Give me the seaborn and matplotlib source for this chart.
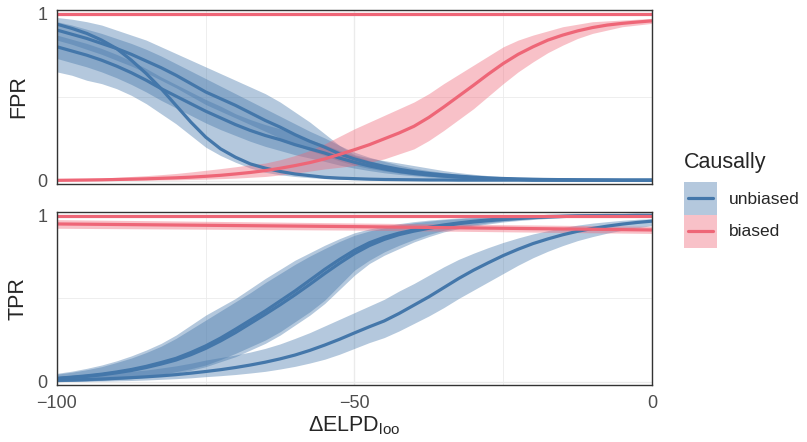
import pandas as pd
import matplotlib
matplotlib.use("Agg")
import matplotlib.pyplot as plt
import seaborn as sns
from matplotlib.patches import Patch, Rectangle
from matplotlib.lines import Line2D
from matplotlib.legend_handler import HandlerBase

# x grid (Delta ELPD_loo), read every 2.5 units
x = [-100, -97.5, -95, -92.5, -90, -87.5, -85, -82.5, -80, -77.5,
     -75, -72.5, -70, -67.5, -65, -62.5, -60, -57.5, -55, -52.5,
     -50, -47.5, -45, -42.5, -40, -37.5, -35, -32.5, -30, -27.5,
     -25, -22.5, -20, -17.5, -15, -12.5, -10, -7.5, -5, -2.5,
     0]
x_ends = [-100, 0]
x_3 = [-100, -50, 0]

# ---- FPR panel, unbiased ----
fpr_unb_a = [0.935, 0.91, 0.88, 0.84, 0.79, 0.72, 0.64, 0.55, 0.45, 0.35,
             0.26, 0.19, 0.14, 0.10, 0.075, 0.055, 0.04, 0.03, 0.02, 0.015,
             0.012, 0.009, 0.007, 0.006, 0.005, 0.004, 0.004, 0.003, 0.003, 0.003,
             0.003, 0.003, 0.002, 0.002, 0.002, 0.002, 0.002, 0.002, 0.002, 0.002,
             0.002]
fpr_unb_a_lo = [0.65, 0.63, 0.60, 0.58, 0.55, 0.51, 0.46, 0.40, 0.34, 0.27,
                0.20, 0.15, 0.11, 0.075, 0.05, 0.035, 0.025, 0.018, 0.012, 0.008,
                0.006, 0.004, 0.003, 0.002, 0.002, 0.001, 0.001, 0.001, 0.001, 0.001,
                0.001, 0.001, 0.001, 0.001, 0.001, 0.001, 0.001, 0.001, 0.001, 0.001,
                0.001]
fpr_unb_a_hi = [0.975, 0.965, 0.95, 0.93, 0.90, 0.87, 0.84, 0.80, 0.76, 0.72,
                0.68, 0.64, 0.60, 0.56, 0.52, 0.47, 0.41, 0.35, 0.28, 0.21,
                0.155, 0.135, 0.12, 0.105, 0.09, 0.075, 0.06, 0.048, 0.038, 0.03,
                0.023, 0.018, 0.014, 0.011, 0.009, 0.008, 0.007, 0.006, 0.005, 0.005,
                0.004]

fpr_unb_b = [0.90, 0.875, 0.85, 0.82, 0.79, 0.755, 0.715, 0.675, 0.63, 0.58,
             0.53, 0.49, 0.45, 0.405, 0.36, 0.32, 0.275, 0.235, 0.20, 0.16,
             0.13, 0.105, 0.085, 0.068, 0.054, 0.043, 0.034, 0.027, 0.021, 0.016,
             0.013, 0.01, 0.008, 0.007, 0.006, 0.005, 0.004, 0.004, 0.003, 0.003,
             0.003]
fpr_unb_b_lo = [0.84, 0.815, 0.785, 0.755, 0.72, 0.685, 0.645, 0.60, 0.555, 0.505,
                0.455, 0.415, 0.375, 0.335, 0.295, 0.255, 0.215, 0.18, 0.15, 0.118,
                0.092, 0.073, 0.058, 0.045, 0.035, 0.027, 0.021, 0.016, 0.012, 0.009,
                0.007, 0.005, 0.004, 0.003, 0.003, 0.002, 0.002, 0.002, 0.001, 0.001,
                0.001]
fpr_unb_b_hi = [0.95, 0.93, 0.905, 0.88, 0.85, 0.82, 0.785, 0.745, 0.70, 0.655,
                0.61, 0.565, 0.52, 0.475, 0.43, 0.385, 0.34, 0.295, 0.255, 0.21,
                0.17, 0.14, 0.115, 0.092, 0.074, 0.06, 0.048, 0.038, 0.03, 0.024,
                0.019, 0.015, 0.012, 0.01, 0.008, 0.007, 0.006, 0.005, 0.005, 0.004,
                0.004]

fpr_unb_c = [0.80, 0.775, 0.75, 0.72, 0.685, 0.645, 0.60, 0.55, 0.505, 0.46,
             0.415, 0.375, 0.335, 0.30, 0.27, 0.245, 0.215, 0.19, 0.165, 0.135,
             0.11, 0.088, 0.07, 0.055, 0.043, 0.034, 0.027, 0.021, 0.016, 0.013,
             0.01, 0.008, 0.007, 0.006, 0.005, 0.004, 0.004, 0.003, 0.003, 0.003,
             0.003]
fpr_unb_c_lo = [0.73, 0.705, 0.68, 0.65, 0.615, 0.575, 0.53, 0.48, 0.435, 0.39,
                0.345, 0.305, 0.27, 0.235, 0.205, 0.18, 0.155, 0.135, 0.115, 0.093,
                0.075, 0.06, 0.047, 0.037, 0.029, 0.022, 0.017, 0.013, 0.01, 0.008,
                0.006, 0.005, 0.004, 0.003, 0.003, 0.002, 0.002, 0.002, 0.001, 0.001,
                0.001]
fpr_unb_c_hi = [0.87, 0.845, 0.82, 0.79, 0.755, 0.715, 0.67, 0.62, 0.575, 0.53,
                0.485, 0.445, 0.40, 0.365, 0.335, 0.31, 0.275, 0.245, 0.215, 0.18,
                0.15, 0.12, 0.095, 0.075, 0.06, 0.047, 0.037, 0.029, 0.023, 0.018,
                0.014, 0.011, 0.009, 0.008, 0.007, 0.006, 0.005, 0.004, 0.004, 0.004,
                0.004]

# ---- FPR panel, biased ----
fpr_bia_flat = [0.998, 0.998]
fpr_bia_flat_lo = [0.99, 0.99]
fpr_bia_flat_hi = [1.0, 1.0]

fpr_bia = [0.002, 0.003, 0.004, 0.005, 0.007, 0.009, 0.011, 0.014, 0.017, 0.021,
           0.026, 0.032, 0.04, 0.049, 0.06, 0.074, 0.09, 0.108, 0.13, 0.157,
           0.185, 0.215, 0.25, 0.285, 0.325, 0.378, 0.44, 0.505, 0.57, 0.637,
           0.70, 0.755, 0.80, 0.84, 0.87, 0.895, 0.915, 0.93, 0.94, 0.948,
           0.955]
fpr_bia_lo = [0.0, 0.0, 0.0, 0.001, 0.001, 0.002, 0.003, 0.004, 0.005, 0.007,
              0.009, 0.012, 0.015, 0.02, 0.025, 0.034, 0.045, 0.057, 0.07, 0.08,
              0.09, 0.11, 0.13, 0.16, 0.19, 0.24, 0.30, 0.365, 0.43, 0.505,
              0.58, 0.65, 0.71, 0.765, 0.81, 0.85, 0.88, 0.90, 0.92, 0.93,
              0.94]
fpr_bia_hi = [0.008, 0.01, 0.013, 0.016, 0.02, 0.025, 0.03, 0.036, 0.043, 0.052,
              0.062, 0.072, 0.083, 0.095, 0.105, 0.125, 0.15, 0.18, 0.22, 0.265,
              0.31, 0.35, 0.39, 0.43, 0.47, 0.52, 0.58, 0.635, 0.69, 0.745,
              0.80, 0.84, 0.87, 0.895, 0.92, 0.935, 0.95, 0.955, 0.96, 0.965,
              0.97]

# ---- TPR panel, unbiased ----
tpr_unb_a = [0.02, 0.027, 0.035, 0.045, 0.058, 0.073, 0.092, 0.115, 0.14, 0.175,
             0.215, 0.262, 0.315, 0.37, 0.425, 0.485, 0.545, 0.61, 0.675, 0.735,
             0.79, 0.835, 0.868, 0.893, 0.912, 0.928, 0.942, 0.954, 0.964, 0.972,
             0.979, 0.985, 0.99, 0.993, 0.995, 0.997, 0.998, 0.999, 0.999, 1.0,
             1.0]
tpr_unb_a_lo = [0.0, 0.002, 0.005, 0.009, 0.015, 0.022, 0.03, 0.043, 0.06, 0.078,
                0.10, 0.133, 0.17, 0.21, 0.25, 0.30, 0.36, 0.42, 0.49, 0.58,
                0.67, 0.73, 0.78, 0.82, 0.855, 0.885, 0.91, 0.928, 0.942, 0.955,
                0.965, 0.973, 0.98, 0.985, 0.99, 0.993, 0.995, 0.996, 0.997, 0.998,
                0.998]
tpr_unb_a_hi = [0.05, 0.063, 0.08, 0.10, 0.125, 0.155, 0.19, 0.23, 0.28, 0.34,
                0.40, 0.45, 0.50, 0.56, 0.62, 0.675, 0.73, 0.775, 0.82, 0.86,
                0.895, 0.918, 0.935, 0.95, 0.962, 0.971, 0.978, 0.984, 0.99, 0.993,
                0.995, 0.997, 0.999, 1.0, 1.0, 1.0, 1.0, 1.0, 1.0, 1.0,
                1.0]

tpr_unb_b = [0.018, 0.025, 0.032, 0.041, 0.053, 0.067, 0.085, 0.106, 0.13, 0.162,
             0.20, 0.245, 0.295, 0.35, 0.405, 0.462, 0.522, 0.585, 0.65, 0.712,
             0.77, 0.818, 0.855, 0.884, 0.905, 0.922, 0.937, 0.95, 0.96, 0.968,
             0.975, 0.981, 0.986, 0.99, 0.993, 0.995, 0.996, 0.997, 0.998, 0.999,
             0.999]
tpr_unb_b_lo = [0.0, 0.002, 0.004, 0.008, 0.012, 0.018, 0.026, 0.037, 0.05, 0.068,
                0.09, 0.12, 0.15, 0.19, 0.23, 0.28, 0.34, 0.40, 0.47, 0.555,
                0.64, 0.71, 0.76, 0.80, 0.84, 0.872, 0.90, 0.92, 0.935, 0.948,
                0.96, 0.968, 0.975, 0.981, 0.986, 0.99, 0.992, 0.994, 0.995, 0.996,
                0.997]
tpr_unb_b_hi = [0.045, 0.057, 0.072, 0.09, 0.115, 0.142, 0.175, 0.213, 0.26, 0.315,
                0.37, 0.425, 0.48, 0.535, 0.595, 0.65, 0.705, 0.755, 0.80, 0.843,
                0.88, 0.906, 0.925, 0.942, 0.955, 0.965, 0.974, 0.98, 0.985, 0.989,
                0.993, 0.995, 0.997, 0.998, 1.0, 1.0, 1.0, 1.0, 1.0, 1.0,
                1.0]

tpr_unb_c = [0.008, 0.01, 0.013, 0.016, 0.02, 0.024, 0.029, 0.035, 0.042, 0.051,
             0.061, 0.072, 0.085, 0.10, 0.117, 0.137, 0.16, 0.188, 0.22, 0.255,
             0.293, 0.33, 0.365, 0.41, 0.46, 0.51, 0.565, 0.62, 0.67, 0.715,
             0.758, 0.796, 0.83, 0.858, 0.883, 0.904, 0.921, 0.935, 0.947, 0.957,
             0.965]
tpr_unb_c_lo = [0.0, 0.001, 0.002, 0.003, 0.005, 0.007, 0.01, 0.014, 0.018, 0.023,
                0.03, 0.036, 0.043, 0.052, 0.062, 0.076, 0.092, 0.112, 0.135, 0.165,
                0.20, 0.235, 0.265, 0.305, 0.35, 0.395, 0.445, 0.50, 0.55, 0.60,
                0.65, 0.70, 0.745, 0.784, 0.818, 0.848, 0.872, 0.893, 0.91, 0.925,
                0.938]
tpr_unb_c_hi = [0.03, 0.035, 0.04, 0.047, 0.055, 0.062, 0.07, 0.082, 0.095, 0.111,
                0.13, 0.145, 0.16, 0.178, 0.20, 0.227, 0.26, 0.295, 0.335, 0.375,
                0.415, 0.455, 0.495, 0.545, 0.59, 0.64, 0.69, 0.735, 0.772, 0.806,
                0.837, 0.864, 0.888, 0.908, 0.926, 0.941, 0.953, 0.962, 0.97, 0.976,
                0.98]

# ---- TPR panel, biased ----
tpr_bia_flat = [0.998, 0.998]
tpr_bia_flat_lo = [0.99, 0.99]
tpr_bia_flat_hi = [1.0, 1.0]

tpr_bia = [0.948, 0.932, 0.912]
tpr_bia_lo = [0.922, 0.911, 0.891]
tpr_bia_hi = [0.974, 0.954, 0.934]

series = [
    ("FPR", "fa", "unbiased", x, fpr_unb_a, fpr_unb_a_lo, fpr_unb_a_hi),
    ("FPR", "fb", "unbiased", x, fpr_unb_b, fpr_unb_b_lo, fpr_unb_b_hi),
    ("FPR", "fc", "unbiased", x, fpr_unb_c, fpr_unb_c_lo, fpr_unb_c_hi),
    ("FPR", "fd", "biased", x_ends, fpr_bia_flat, fpr_bia_flat_lo, fpr_bia_flat_hi),
    ("FPR", "fe", "biased", x, fpr_bia, fpr_bia_lo, fpr_bia_hi),
    ("TPR", "ta", "unbiased", x, tpr_unb_a, tpr_unb_a_lo, tpr_unb_a_hi),
    ("TPR", "tb", "unbiased", x, tpr_unb_b, tpr_unb_b_lo, tpr_unb_b_hi),
    ("TPR", "tc", "unbiased", x, tpr_unb_c, tpr_unb_c_lo, tpr_unb_c_hi),
    ("TPR", "td", "biased", x_ends, tpr_bia_flat, tpr_bia_flat_lo, tpr_bia_flat_hi),
    ("TPR", "te", "biased", x_3, tpr_bia, tpr_bia_lo, tpr_bia_hi),
]

frames = []
for panel, sid, grp, xs, y, lo, hi in series:
    frames.append(pd.DataFrame({"panel": panel, "series": sid, "Causally": grp,
                                "x": xs, "y": y, "lo": lo, "hi": hi}))
df = pd.concat(frames, ignore_index=True)

BLUE = "#4477AA"
RED = "#EE6677"
palette = {"unbiased": BLUE, "biased": RED}
order = ["unbiased", "biased"]


class RibbonKey(HandlerBase):
    # ggplot-like key: filled square (ribbon) with a line through the middle
    def create_artists(self, legend, orig_handle, xdescent, ydescent,
                       width, height, fontsize, trans):
        col = orig_handle.get_facecolor()
        rect = Rectangle((-xdescent, -ydescent), width, height,
                         facecolor=col, alpha=0.4, edgecolor="none", transform=trans)
        cy = -ydescent + height / 2
        pad = 0.22 * fontsize
        line = Line2D([-xdescent + pad, -xdescent + width - pad], [cy, cy],
                      color=col, lw=2.3, transform=trans)
        return [rect, line]


sns.set_theme(style="white")
plt.rcParams["font.family"] = ["Liberation Sans", "DejaVu Sans"]
plt.rcParams["mathtext.default"] = "regular"

fig = plt.figure(figsize=(8.07, 4.42), dpi=100)
ax_top = fig.add_axes([0.0706, 0.5837, 0.7373, 0.3937])
ax_bot = fig.add_axes([0.0706, 0.1290, 0.7373, 0.3914])

for ax, panel in [(ax_top, "FPR"), (ax_bot, "TPR")]:
    d = df[df["panel"] == panel]
    # ribbons first, then lines (unbiased below biased)
    for grp in order:
        for sid, g in d[d["Causally"] == grp].groupby("series", sort=False):
            ax.fill_between(g["x"], g["lo"], g["hi"], color=palette[grp],
                            alpha=0.4, lw=0)
    sns.lineplot(data=d, x="x", y="y", hue="Causally", hue_order=order,
                 units="series", estimator=None, palette=palette, lw=2.3,
                 legend=False, ax=ax)

    ax.set_xlim(-100, 0)
    ax.set_ylim(-0.02, 1.02)
    ax.set_xticks([-100, -50, 0])
    ax.set_xticks([-75, -25], minor=True)
    ax.set_yticks([0, 1])
    ax.set_yticks([0.5], minor=True)
    ax.grid(which="major", color="#EBEBEB", lw=1.0)
    ax.grid(which="minor", color="#EBEBEB", lw=0.6)
    ax.set_axisbelow(True)
    for sp in ax.spines.values():
        sp.set_color("#333333")
        sp.set_linewidth(1.0)
    ax.tick_params(which="major", length=4.5, width=0.9, color="#333333",
                   labelsize=13, labelcolor="#4D4D4D", pad=2.5)
    ax.tick_params(which="minor", length=0)
    ax.set_ylabel(panel, fontsize=15.5, labelpad=6)
    ax.set_xlabel("")

ax_top.tick_params(axis="x", which="major", length=0, labelbottom=False)
ax_bot.set_xlabel("ΔELPD$_{loo}$", fontsize=15.5, labelpad=2)

# legend: title as text, keys are ribbon + line
fig.text(684 / 807, 1 - 152 / 442, "Causally", fontsize=15.5, ha="left", va="top")
handles = [Patch(facecolor=BLUE), Patch(facecolor=RED)]
fig.legend(handles, order, loc="upper left",
           bbox_to_anchor=(684 / 807, 1 - 182 / 442), frameon=False,
           borderpad=0, borderaxespad=0,
           fontsize=12.5, handlelength=1.9, handleheight=2.53,
           labelspacing=0, handletextpad=0.68,
           handler_map={Patch: RibbonKey()})

fig.savefig("out.png", dpi=100)
